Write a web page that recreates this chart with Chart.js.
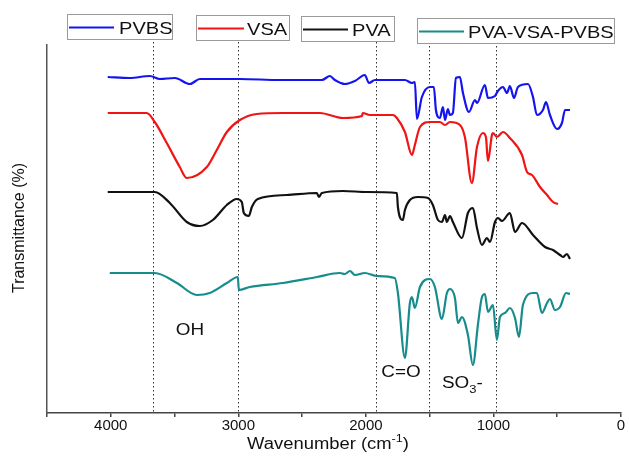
<!DOCTYPE html>
<html>
<head>
<meta charset="utf-8">
<title>FTIR spectra</title>
<script src="https://cdn.jsdelivr.net/npm/chart.js@4.4.0/dist/chart.umd.min.js"></script>
<style>
    html, body { margin: 0; padding: 0; background: #fff; }
    #wrap { width: 629px; height: 461px; }
</style>
</head>
<body>
<div id="wrap"><canvas id="ftir" width="629" height="461"></canvas></div>
<script>
// Wavenumber (cm-1) si transmitanta (unitati arbitrare, curbele sunt decalate)
const pvbsWave = [4024, 3851, 3694, 3616, 3498, 3380, 3302, 2988, 2675, 2345, 2282, 2243, 2165, 2086, 2008, 1976, 1929, 1694, 1639, 1616, 1600, 1561, 1498, 1467, 1451, 1420, 1396, 1380, 1357, 1341, 1318, 1294, 1263, 1239, 1192, 1145, 1129, 1067, 1043, 988, 965, 925, 894, 871, 839, 808, 729, 690, 659, 612, 588, 557, 502, 463, 439, 400];
const pvbsT    = [336, 335, 337, 334, 335, 329, 334, 334, 333, 333, 337, 333, 329, 332, 338, 330, 333, 333, 330, 331, 294, 316, 326, 326, 303, 295, 306, 293, 304, 298, 300, 335, 336, 320, 301, 313, 310, 328, 315, 317, 322, 326, 320, 327, 315, 326, 329, 316, 298, 303, 311, 298, 284, 290, 303, 303];

const vsaWave = [4024, 3718, 3655, 3561, 3459, 3404, 3247, 3169, 3090, 2988, 2855, 2651, 2361, 2180, 2031, 2024, 1969, 1788, 1757, 1694, 1639, 1616, 1576, 1498, 1420, 1380, 1341, 1263, 1224, 1169, 1129, 1082, 1059, 1043, 1012, 1004, 973, 925, 871, 776, 737, 698, 635, 580, 533, 494];
const vsaT    = [300, 300, 291, 270, 246, 235, 246, 263, 281, 293, 299, 300, 300, 295, 297, 300, 298, 298, 295, 281, 258, 268, 286, 291, 291, 288, 291, 288, 276, 230, 266, 280, 276, 252, 278, 280, 276, 281, 275, 258, 241, 238, 226, 218, 211, 209];

const pvaWave = [4024, 3655, 3537, 3404, 3302, 3200, 3090, 3012, 2973, 2957, 2918, 2894, 2847, 2620, 2384, 2369, 2345, 2180, 1992, 1757, 1749, 1710, 1694, 1655, 1592, 1514, 1475, 1435, 1404, 1380, 1365, 1341, 1318, 1247, 1200, 1161, 1129, 1090, 1051, 1027, 988, 965, 933, 871, 831, 776, 690, 596, 533, 478, 455, 424, 400];
const pvaT    = [221, 221, 210, 191, 187, 193, 208, 214, 211, 200, 197, 206, 214, 218, 220, 216, 220, 222, 221, 220, 206, 193, 203, 213, 216, 215, 208, 193, 191, 198, 191, 197, 191, 175, 200, 205, 185, 168, 175, 171, 191, 195, 192, 200, 181, 190, 178, 166, 163, 158, 156, 159, 154];

const blendWave = [4008, 3655, 3482, 3325, 3224, 3090, 3004, 2996, 2910, 2651, 2384, 2204, 2165, 2125, 2086, 2008, 1914, 1773, 1749, 1694, 1655, 1639, 1616, 1576, 1498, 1459, 1404, 1365, 1341, 1302, 1278, 1247, 1200, 1161, 1122, 1090, 1067, 1043, 1004, 973, 949, 910, 871, 831, 800, 769, 690, 659, 620, 580, 557, 518, 478, 431, 400];
const blendT    = [140, 140, 130, 118, 120, 130, 136, 123, 126, 130, 136, 140, 139, 142, 138, 140, 137, 135, 120, 55, 110, 116, 105, 126, 134, 126, 94, 120, 124, 115, 90, 96, 78, 48, 88, 116, 119, 101, 108, 73, 96, 100, 105, 95, 76, 108, 120, 120, 100, 110, 114, 103, 106, 120, 119];

const seriesNames  = ["PVBS", "VSA", "PVA", "PVA-VSA-PVBS"];
const seriesColors = ["#1414f0", "#f01414", "#111111", "#178c8c"];

// Benzile marcate cu linii punctate
const markerWaves = [3670, 3000, 1920, 1505, 980];
const xTicks = [4000, 3000, 2000, 1000, 0];

const FONT = "'Liberation Sans', Arial, sans-serif";

function toPoints(wave, vals) {
    return wave.map((w, i) => ({ x: w, y: vals[i] }));
}

// text intins orizontal (imaginea originala e putin latita)
function drawStretched(ctx, text, x, y, size, sx, align) {
    ctx.save();
    ctx.font = `${size}px ${FONT}`;
    ctx.textBaseline = "alphabetic";
    const w = ctx.measureText(text).width * sx;
    let left = x;
    if (align === "center") left = x - w / 2;
    ctx.translate(left, y);
    ctx.scale(sx, 1);
    ctx.textAlign = "left";
    ctx.fillStyle = "#111";
    ctx.fillText(text, 0, 0);
    ctx.restore();
    return left + w;
}

const decorPlugin = {
    id: "decor",
    beforeDatasetsDraw(chart) {
        const ctx = chart.ctx;
        const xs = chart.scales.x;
        const area = chart.chartArea;
        ctx.save();
        ctx.strokeStyle = "#333";
        ctx.lineWidth = 1;
        ctx.setLineDash([1.5, 2.5]);
        markerWaves.forEach(w => {
            const px = Math.round(xs.getPixelForValue(w)) + 0.5;
            ctx.beginPath();
            ctx.moveTo(px, 42);
            ctx.lineTo(px, area.bottom);
            ctx.stroke();
        });
        ctx.restore();
    },
    afterDraw(chart) {
        const ctx = chart.ctx;

        // legenda: cate o casuta pentru fiecare serie
        const boxes = [
            { x0: 67,  y0: 14, x1: 172, y1: 39, l0: 69,  l1: 114, tx: 119 },
            { x0: 196, y0: 15, x1: 289, y1: 40, l0: 198, l1: 244, tx: 247 },
            { x0: 301, y0: 16, x1: 394, y1: 41, l0: 303, l1: 348, tx: 352 },
            { x0: 417, y0: 18, x1: 614, y1: 43, l0: 419, l1: 464, tx: 468 }
        ];
        boxes.forEach((b, i) => {
            ctx.save();
            ctx.fillStyle = "#fff";
            ctx.fillRect(b.x0, b.y0, b.x1 - b.x0, b.y1 - b.y0);
            ctx.strokeStyle = "#9a9a9a";
            ctx.lineWidth = 1;
            ctx.strokeRect(b.x0 + 0.5, b.y0 + 0.5, b.x1 - b.x0, b.y1 - b.y0);
            const my = Math.round((b.y0 + b.y1) / 2) + 0.5;
            ctx.strokeStyle = seriesColors[i];
            ctx.lineWidth = 2;
            ctx.beginPath();
            ctx.moveTo(b.l0, my);
            ctx.lineTo(b.l1, my);
            ctx.stroke();
            ctx.restore();
            drawStretched(ctx, seriesNames[i], b.tx, my + 6.5, 17, 1.18, "left");
        });

        // etichete pentru benzi
        drawStretched(ctx, "OH", 190, 335, 16, 1.18, "center");
        drawStretched(ctx, "C=O", 401, 377, 16, 1.18, "center");
        let end = drawStretched(ctx, "SO", 442, 388, 16, 1.18, "left");
        end = drawStretched(ctx, "3", end, 393, 11, 1.18, "left");
        drawStretched(ctx, "-", end, 388, 16, 1.18, "left");

        // titlul axei x cu exponent
        ctx.save();
        ctx.font = `16px ${FONT}`;
        const main = "Wavenumber (cm";
        const sx = 1.15;
        const wMain = ctx.measureText(main).width * sx;
        ctx.font = `11px ${FONT}`;
        const wSup = ctx.measureText("-1").width * sx;
        ctx.font = `16px ${FONT}`;
        const wEnd = ctx.measureText(")").width * sx;
        ctx.restore();
        const start = 328 - (wMain + wSup + wEnd) / 2;
        let e = drawStretched(ctx, main, start, 449, 16, sx, "left");
        e = drawStretched(ctx, "-1", e, 442, 11, sx, "left");
        drawStretched(ctx, ")", e, 449, 16, sx, "left");

        // titlul axei y
        ctx.save();
        ctx.translate(20, 228);
        ctx.rotate(-Math.PI / 2);
        ctx.font = `16px ${FONT}`;
        ctx.fillStyle = "#111";
        ctx.textAlign = "center";
        ctx.textBaseline = "middle";
        ctx.fillText("Transmittance (%)", 0, 0);
        ctx.restore();
    }
};

const datasets = [
    toPoints(pvbsWave, pvbsT),
    toPoints(vsaWave, vsaT),
    toPoints(pvaWave, pvaT),
    toPoints(blendWave, blendT)
].map((pts, i) => ({
    label: seriesNames[i],
    data: pts,
    borderColor: seriesColors[i],
    borderWidth: 2.2,
    pointRadius: 0,
    cubicInterpolationMode: "monotone",
    fill: false
}));

const ctx = document.getElementById("ftir").getContext("2d");
const chart = new Chart(ctx, {
    type: "line",
    data: { datasets: datasets },
    options: {
        responsive: false,
        animation: false,
        devicePixelRatio: 1,
        layout: { padding: { top: 45, right: 8, left: 0, bottom: 0 } },
        plugins: {
            legend: { display: false },
            tooltip: { enabled: false }
        },
        scales: {
            x: {
                type: "linear",
                reverse: true,
                min: 0,
                max: 4500,
                afterFit: scale => { scale.height = 48; },
                afterBuildTicks: scale => {
                    const t = [];
                    for (let v = 0; v <= 4500; v += 500) t.push({ value: v });
                    scale.ticks = t;
                },
                ticks: {
                    color: "#111",
                    font: { family: FONT, size: 15 },
                    padding: 0,
                    maxRotation: 0,
                    autoSkip: false,
                    callback: v => xTicks.includes(v) ? String(v) : ""
                },
                grid: { drawOnChartArea: false, drawTicks: true, tickLength: 4, color: "#444", lineWidth: 1.5 },
                border: { display: true, color: "#444", width: 1.5 }
            },
            y: {
                min: 0,
                max: 368,
                afterFit: scale => { scale.width = 47; },
                ticks: { display: false },
                grid: { display: false },
                border: { display: true, color: "#555", width: 1.5 }
            }
        }
    },
    plugins: [decorPlugin]
});
</script>
</body>
</html>
